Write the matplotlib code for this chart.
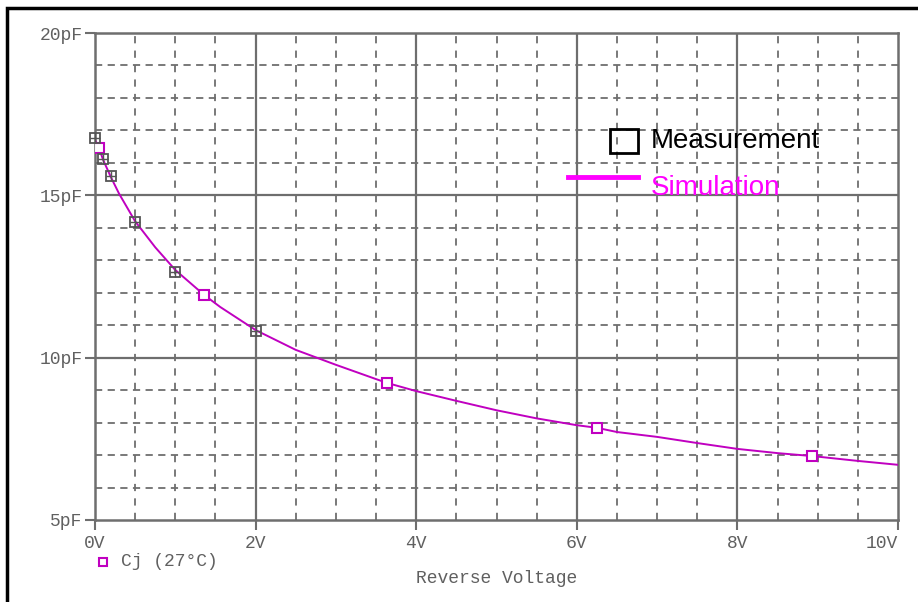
import numpy as np
import matplotlib
matplotlib.use('Agg')
import matplotlib.pyplot as plt
from matplotlib.patches import Rectangle
from matplotlib.lines import Line2D

# measured junction capacitance (grey boxed markers)
meas_v = [0.0, 0.1, 0.2, 0.5, 1.0, 2.0]
meas_c = [16.77, 16.12, 15.6, 14.18, 12.64, 10.82]

# simulated Cj trace
sim_v = [0.0, 0.05, 0.1, 0.2, 0.3, 0.5, 0.75, 1.0, 1.36, 1.56, 2.0, 2.5, 3.0,
         3.5, 3.64, 4.0, 4.5, 5.0, 5.5, 6.0, 6.25, 6.5, 7.0, 7.5, 8.0, 8.5,
         8.93, 9.5, 10.0]
sim_c = [16.7, 16.46, 16.1, 15.55, 15.05, 14.2, 13.4, 12.7, 11.93, 11.56,
         10.85, 10.24, 9.78, 9.34, 9.22, 8.97, 8.67, 8.38, 8.13, 7.92, 7.84,
         7.71, 7.56, 7.37, 7.19, 7.06, 6.97, 6.82, 6.70]

# PSpice trace markers
mark_v = [0.05, 1.36, 3.64, 6.25, 8.93]
mark_c = [16.46, 11.93, 9.22, 7.84, 6.97]

x_ticks = [0, 2, 4, 6, 8, 10]
x_labels = ['0V', '2V', '4V', '6V', '8V', '10V']
y_ticks = [5, 10, 15, 20]
y_labels = ['5pF', '10pF', '15pF', '20pF']

W, H = 918, 602
fig = plt.figure(figsize=(W / 100, H / 100), dpi=100)
ax = fig.add_axes([95 / W, (H - 520) / H, (898 - 95) / W, (520 - 33) / H])

grid_col = '#6e6e6e'
txt_col = '#606060'
mono = 'Liberation Mono'
fs = 13

# grid: dashed every 0.5V / 1pF, solid every 2V / 5pF
for v in np.arange(0.5, 10, 0.5):
    if v % 2 != 0:
        ax.axvline(v, color=grid_col, lw=1.3, ls=(0, (4, 4)), zorder=1)
for c in np.arange(6, 20, 1):
    if c % 5 != 0:
        ax.axhline(c, color=grid_col, lw=1.3, ls=(0, (4, 3)), zorder=1)
for v in x_ticks[1:-1]:
    ax.axvline(v, color=grid_col, lw=1.6, zorder=1)
for c in y_ticks[1:-1]:
    ax.axhline(c, color=grid_col, lw=1.6, zorder=1)

ax.plot(sim_v, sim_c, color='#c000c0', lw=1.4, zorder=3)
ax.plot(mark_v, mark_c, ls='none', marker='s', ms=7, mfc='white',
        mec='#c000c0', mew=1.5, zorder=4)
ax.plot(meas_v, meas_c, ls='none', marker='s', ms=7, mfc='none',
        mec='#555555', mew=1.3, zorder=5, clip_on=False)
ax.plot(meas_v, meas_c, ls='none', marker='+', ms=7, mec='#555555',
        mew=1.0, zorder=5, clip_on=False)

ax.set_xlim(0, 10)
ax.set_ylim(5, 20)
ax.set_xticks(x_ticks)
ax.set_xticklabels(x_labels, family=mono, fontsize=fs, color=txt_col)
ax.set_yticks(y_ticks)
ax.set_yticklabels(y_labels, family=mono, fontsize=fs, color=txt_col)
ax.tick_params(axis='both', direction='out', length=7, width=1.5,
               color=grid_col)
ax.tick_params(axis='x', pad=4)
ax.tick_params(axis='y', pad=2)
ax.get_xticklabels()[-1].set_horizontalalignment('right')
ax.get_xticklabels()[-1].set_x(10.03)
for s in ax.spines.values():
    s.set_color(grid_col)
    s.set_linewidth(1.8)

ax.set_xlabel('Reverse Voltage', family=mono, fontsize=fs, color=txt_col,
              labelpad=13)

# in-plot legend (Measurement / Simulation)
fig.patches.append(Rectangle((610 / W, 1 - 153 / H), 28 / W, 24 / H,
                             transform=fig.transFigure, fill=False,
                             ec='black', lw=2))
fig.text(651 / W, 1 - 141 / H, 'Measurement', fontsize=20,
         family='Liberation Sans', color='black', va='center')
fig.lines.append(Line2D([568 / W, 638 / W], [1 - 177 / H, 1 - 177 / H],
                        transform=fig.transFigure, color='#ff00ff', lw=3.5))
fig.text(651 / W, 1 - 188 / H, 'Simulation', fontsize=20,
         family='Liberation Sans', color='#ff00ff', va='center')

# trace legend under the axis
fig.lines.append(Line2D([103 / W], [1 - 562 / H], transform=fig.transFigure,
                        ls='none', marker='s', ms=6, mfc='white',
                        mec='#c000c0', mew=1.5))
fig.text(121 / W, 1 - 562 / H, 'Cj (27°C)', family=mono, fontsize=fs,
         color=txt_col, va='center')

# outer frame
fig.patches.append(Rectangle((7 / W, -0.1), 1.2, 1.1 - 8 / H,
                             transform=fig.transFigure, fill=False,
                             ec='black', lw=2.5))

fig.savefig('out.png', dpi=100)
